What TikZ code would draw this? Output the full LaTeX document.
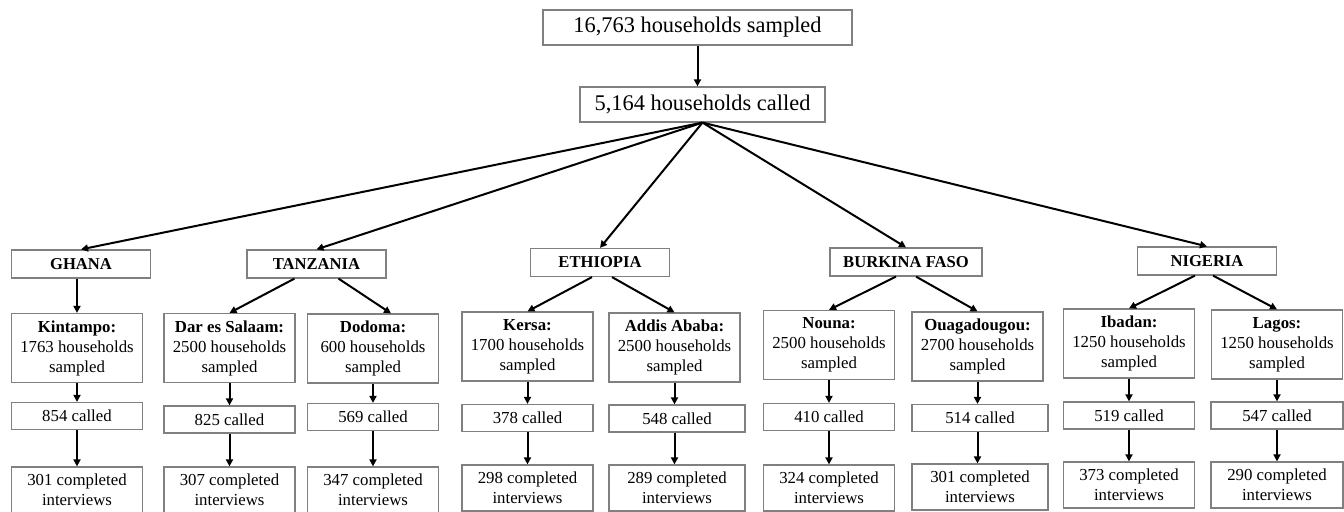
\documentclass[tikz,border=0pt]{standalone}
\usepackage{fontspec}
\setmainfont{Liberation Serif}
\usetikzlibrary{arrows.meta, positioning}
\definecolor{mGray}{HTML}{808080}
\tikzset{
  topbox/.style={draw=mGray, line width=0.6pt, minimum width=154.5pt, minimum height=17.5pt,
                 inner sep=0pt, font=\fontsize{11.2}{13}\selectfont},
  cbox/.style={draw=mGray, line width=0.6pt, minimum width=69.5pt, minimum height=14pt,
               inner sep=0pt, font=\fontsize{8.3}{10}\selectfont\bfseries},
  sbox/.style={draw=mGray, line width=0.6pt, minimum width=65.5pt, minimum height=34.5pt,
               inner sep=0pt, align=center, font=\fontsize{8.4}{10}\selectfont},
  nbox/.style={sbox, minimum height=13.5pt},
  ibox/.style={sbox, minimum height=23pt},
  flow/.style={-{Triangle[length=3.5pt,width=3.5pt]}, line width=1pt},
}
\begin{document}
\begin{tikzpicture}[x=0.5pt, y=-0.5pt]
    \useasboundingbox (0,0) rectangle (1344,512);
    % top of the tree
    \node[topbox] (sampled) at (697.5,27.5) {16,763 households sampled};
    \node[topbox, minimum width=122.5pt] (called) at (702.5,104.5) {5,164 households called};
    % countries
    \node[cbox] (gha) at (81,264) {GHANA};
    \node[cbox] (tza) at (316.5,264) {TANZANIA};
    \node[cbox] (eth) at (600,262.5) {ETHIOPIA};
    \node[cbox, minimum width=76pt] (bfa) at (906,262) {BURKINA FASO};
    \node[cbox] (nga) at (1207,261) {NIGERIA};
    % sites
    \node[sbox] (kin) at (77,348) {\textbf{Kintampo:}\\1763 households\\sampled};
    \node[sbox] (dar) at (229.5,348) {\textbf{Dar es Salaam:}\\2500 households\\sampled};
    \node[sbox] (dod) at (373,348.5) {\textbf{Dodoma:}\\600 households\\sampled};
    \node[sbox] (ker) at (527.5,346.5) {\textbf{Kersa:}\\1700 households\\sampled};
    \node[sbox] (add) at (674.5,347.5) {\textbf{Addis Ababa:}\\2500 households\\sampled};
    \node[sbox] (nou) at (829,345) {\textbf{Nouna:}\\2500 households\\sampled};
    \node[sbox] (oua) at (977.5,346.5) {\textbf{Ouagadougou:}\\2700 households\\sampled};
    \node[sbox] (iba) at (1129,343.5) {\textbf{Ibadan:}\\1250 households\\sampled};
    \node[sbox] (lag) at (1277,344.5) {\textbf{Lagos:}\\1250 households\\sampled};
    % called
    \node[nbox] (kin-c) at (77,416) {854 called};
    \node[nbox] (dar-c) at (229.5,419.5) {825 called};
    \node[nbox] (dod-c) at (373,417) {569 called};
    \node[nbox] (ker-c) at (527.5,418) {378 called};
    \node[nbox, minimum width=68pt] (add-c) at (677,418.5) {548 called};
    \node[nbox] (nou-c) at (829,417) {410 called};
    \node[nbox, minimum width=68pt] (oua-c) at (980,418) {514 called};
    \node[nbox] (iba-c) at (1129,415.5) {519 called};
    \node[nbox, minimum width=66pt] (lag-c) at (1277,415.5) {547 called};
    % completed interviews
    \node[ibox] (kin-i) at (77,490) {301 completed\\interviews};
    \node[ibox] (dar-i) at (229.5,490) {307 completed\\interviews};
    \node[ibox] (dod-i) at (373,490) {347 completed\\interviews};
    \node[ibox] (ker-i) at (527.5,488) {298 completed\\interviews};
    \node[ibox, minimum width=68pt] (add-i) at (677,488) {289 completed\\interviews};
    \node[ibox] (nou-i) at (829,488) {324 completed\\interviews};
    \node[ibox, minimum width=68pt] (oua-i) at (980,487) {301 completed\\interviews};
    \node[ibox] (iba-i) at (1129,485) {373 completed\\interviews};
    \node[ibox, minimum width=66pt] (lag-i) at (1277,485) {290 completed\\interviews};
    % arrows
    \draw[flow] (sampled.south) -- (sampled.south |- called.north);
    \draw[flow] (called.south) -- (gha.north);
    \draw[flow] (called.south) -- (tza.north);
    \draw[flow] (called.south) -- (eth.north);
    \draw[flow] (called.south) -- (bfa.north);
    \draw[flow] (called.south) -- (nga.north);
    \draw[flow] (gha.south -| kin.north) -- (kin.north);
    \draw[flow] ([xshift=-11pt]tza.south) -- (dar.north);
    \draw[flow] ([xshift=11pt]tza.south) -- ([xshift=9pt]dod.north);
    \draw[flow] ([xshift=-4pt]eth.south) -- (ker.north);
    \draw[flow] ([xshift=6pt]eth.south) -- (add.north);
    \draw[flow] ([xshift=-5pt]bfa.south) -- (nou.north);
    \draw[flow] ([xshift=5pt]bfa.south) -- (oua.north);
    \draw[flow] ([xshift=-6pt]nga.south) -- (iba.north);
    \draw[flow] ([xshift=3pt]nga.south) -- (lag.north);
    \foreach \s in {kin, dar, dod, ker, add, nou, oua, iba, lag} {
      \draw[flow] (\s.south) -- (\s.south |- \s-c.north);
      \draw[flow] (\s.south |- \s-c.south) -- (\s.south |- \s-i.north);
    }
  \end{tikzpicture}
\end{document}
